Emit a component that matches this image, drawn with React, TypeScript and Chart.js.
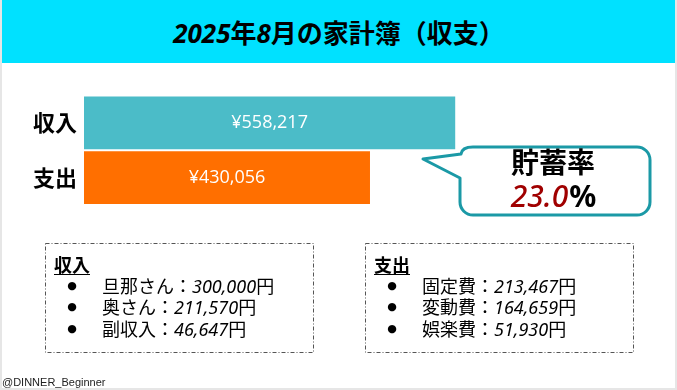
import React, { useEffect, useRef } from "react";
import { Chart, registerables } from "chart.js";

Chart.register(...registerables);

// ---- data ----
const categories = ["収入", "支出"];
const totals = [558217, 430056];
const barColors = ["#4BBCC8", "#FF6F00"];
const incomeItems = ["旦那さん", "奥さん", "副収入"];
const incomeValues = [300000, 211570, 46647];
const expenseItems = ["固定費", "変動費", "娯楽費"];
const expenseValues = [213467, 164659, 51930];
const xMax = 800000;

const W = 677;
const H = 390;
const CJK = '"Noto Sans CJK JP"';
const MIX = '"Noto Sans", "Noto Sans CJK JP", sans-serif';

const fmt = (v: number) => v.toLocaleString("en-US");

type BoxProps = { left: number; title: string; items: string[]; values: number[] };

function Box({ left, title, items, values }: BoxProps) {
  const rows = [285.5, 307, 328.5];
  return (
    <>
      <div
        style={{
          position: "absolute",
          left: left + 9,
          top: 264 - 12,
          lineHeight: "24px",
          fontSize: 18,
          fontWeight: "bold",
          fontFamily: CJK,
          textDecoration: "underline",
          textUnderlineOffset: 2,
          color: "#000",
          whiteSpace: "nowrap",
        }}
      >
        {title}
      </div>
      {items.map((it, i) => (
        <React.Fragment key={it}>
          <div
            style={{
              position: "absolute",
              left: left + 21,
              top: rows[i] - 11,
              width: 12,
              textAlign: "center",
              lineHeight: "22px",
              fontSize: 11,
              fontFamily: '"DejaVu Sans", sans-serif',
              color: "#000",
            }}
          >
            ●
          </div>
          <div
            style={{
              position: "absolute",
              left: left + 57,
              top: rows[i] - 11,
              lineHeight: "22px",
              fontSize: 18,
              fontFamily: MIX,
              color: "#000",
              whiteSpace: "nowrap",
            }}
          >
            {it}：<i>{fmt(values[i])}</i>円
          </div>
        </React.Fragment>
      ))}
    </>
  );
}

export default function App() {
  const ref = useRef<HTMLCanvasElement>(null);

  useEffect(() => {
    if (!ref.current) return;

    const valueLabels = {
      id: "valueLabels",
      afterDatasetsDraw(chart: any) {
        const ctx = chart.ctx;
        const meta = chart.getDatasetMeta(0);
        ctx.save();
        ctx.fillStyle = "#ffffff";
        ctx.font = '18px "Open Sans"';
        ctx.textAlign = "center";
        ctx.textBaseline = "middle";
        meta.data.forEach((el: any, i: number) => {
          const p = el.getProps(["x", "y", "base"], true);
          ctx.fillText("¥" + fmt(totals[i]), (p.x + p.base) / 2, p.y);
        });
        ctx.restore();
      },
    };

    const decorations = {
      id: "decorations",
      afterDraw(chart: any) {
        const ctx = chart.ctx;
        ctx.save();
        // dash-dot boxes
        ctx.setLineDash([4, 2, 1, 2]);
        ctx.strokeStyle = "#555555";
        ctx.lineWidth = 1;
        ctx.strokeRect(45.5, 243.5, 268, 109);
        ctx.strokeRect(365.5, 243.5, 268, 109);
        ctx.setLineDash([]);

        // callout
        const L = 460, T = 147, R = 650, B = 215, r = 13;
        const tipX = 423, tipY = 159, p2 = 178;
        ctx.beginPath();
        ctx.moveTo(L + r, T);
        ctx.lineTo(R - r, T);
        ctx.arcTo(R, T, R, T + r, r);
        ctx.lineTo(R, B - r);
        ctx.arcTo(R, B, R - r, B, r);
        ctx.lineTo(L + r, B);
        ctx.arcTo(L, B, L, B - r, r);
        ctx.lineTo(L, p2);
        ctx.lineTo(tipX, tipY);
        ctx.lineTo(L + 1, T + 7);
        ctx.quadraticCurveTo(L + 2, T, L + r, T);
        ctx.closePath();
        ctx.fillStyle = "#ffffff";
        ctx.fill();
        ctx.lineWidth = 3;
        ctx.lineJoin = "round";
        ctx.strokeStyle = "#1B99A6";
        ctx.stroke();

        const cx = 553;
        ctx.fillStyle = "#000";
        ctx.textAlign = "center";
        ctx.textBaseline = "middle";
        ctx.font = `bold 28px ${CJK}`;
        ctx.fillText("貯蓄率", cx, 162);

        const rate = (((totals[0] - totals[1]) / totals[0]) * 100).toFixed(1);
        ctx.textAlign = "left";
        ctx.textBaseline = "alphabetic";
        const f1 = 'italic 500 30px "Noto Sans"';
        const f2 = 'bold 30px "Noto Sans"';
        ctx.font = f1;
        const w1 = ctx.measureText(rate).width;
        ctx.font = f2;
        const w2 = ctx.measureText("%").width;
        const sx = cx - (w1 + w2) / 2;
        ctx.font = f1;
        ctx.fillStyle = "#A00000";
        ctx.fillText(rate, sx, 206.5);
        ctx.font = f2;
        ctx.fillStyle = "#000";
        ctx.fillText("%", sx + w1 + 1, 206.5);
        ctx.restore();
      },
    };

    const chart = new Chart(ref.current, {
      type: "bar",
      data: {
        labels: categories,
        datasets: [
          {
            data: totals,
            backgroundColor: barColors,
            borderWidth: 0,
            barPercentage: 0.96,
            categoryPercentage: 1,
          },
        ],
      },
      options: {
        indexAxis: "y",
        responsive: false,
        animation: false,
        layout: { padding: { left: 0, right: 61, top: 95.5, bottom: 185 } },
        plugins: {
          legend: { display: false },
          tooltip: { enabled: false },
          title: { display: false },
        },
        scales: {
          x: { display: false, min: 0, max: xMax },
          y: {
            grid: { display: false, drawTicks: false },
            border: { display: false },
            ticks: {
              color: "#000",
              padding: 7,
              font: { family: CJK, size: 22, weight: "bold" },
            },
            afterFit(s: any) {
              s.width = 84;
            },
          },
        },
      },
      plugins: [valueLabels, decorations],
    } as any);

    return () => chart.destroy();
  }, []);

  return (
    <div
      style={{
        position: "absolute",
        left: 0,
        top: 0,
        width: W,
        height: H,
        overflow: "hidden",
        background: "#fff",
      }}
    >
      <canvas
        ref={ref}
        width={W}
        height={H}
        style={{ position: "absolute", left: 0, top: 0, width: W, height: H, display: "block" }}
      />
      <div
        style={{
          position: "absolute",
          left: 2,
          top: 0,
          width: 674,
          height: 63,
          background: "#00E1FF",
          display: "flex",
          alignItems: "center",
          justifyContent: "center",
          fontFamily: MIX,
          fontWeight: "bold",
          fontSize: 26,
          color: "#000",
          whiteSpace: "nowrap",
        }}
      >
        <span>
          <i>2025</i>年<i>8</i>月の家計簿（収支）
        </span>
      </div>
      <Box left={45} title="収入" items={incomeItems} values={incomeValues} />
      <Box left={365} title="支出" items={expenseItems} values={expenseValues} />
      <div
        style={{
          position: "absolute",
          left: 2,
          top: 376,
          fontSize: 11,
          lineHeight: "12px",
          fontFamily: '"Liberation Sans", Arial, sans-serif',
          color: "#222",
          whiteSpace: "nowrap",
        }}
      >
        @DINNER_Beginner
      </div>
      <div style={{ position: "absolute", left: 0, top: 0, width: 2, height: H, background: "#e6e6e6" }} />
      <div style={{ position: "absolute", right: 0, top: 0, width: 2, height: H, background: "#e6e6e6" }} />
      <div style={{ position: "absolute", left: 0, bottom: 0, width: W, height: 2, background: "#e6e6e6" }} />
    </div>
  );
}
